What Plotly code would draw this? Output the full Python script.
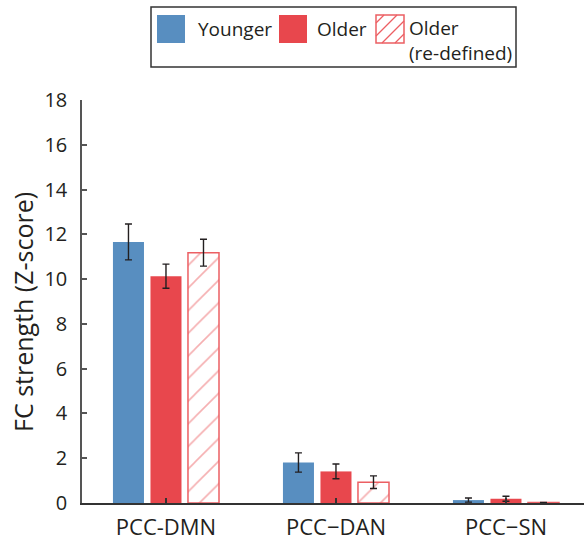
import plotly.graph_objects as go

# ---- data ----
categories = ["PCC-DMN", "PCC\u2212DAN", "PCC\u2212SN"]
younger = [11.66, 1.81, 0.13]
younger_err = [0.80, 0.43, 0.09]
older = [10.13, 1.41, 0.19]
older_err = [0.54, 0.33, 0.11]
older_redef = [11.18, 0.93, 0.02]
older_redef_err = [0.60, 0.28, 0.0]
y_ticks = list(range(0, 19, 2))

series_names = ["Younger", "Older", "Older<br>(re-defined)"]
y_title = "FC strength (Z-score)"

# ---- style ----
BLUE = "#588ec0"
RED = "#e8474d"
RED_LINE = "#ec5f63"
INK = "#231f20"
FONT = "Open Sans"

W, H = 584, 540
M_L, M_R, M_T, M_B = 82, 0, 100, 37
PW, PH = W - M_L - M_R, H - M_T - M_B


def px(x):
    return (x - M_L) / PW


def py(y):
    return (H - M_B - y) / PH


err_style = dict(type="data", color=INK, thickness=1.4, width=3.5, visible=True)

fig = go.Figure()
fig.add_trace(go.Bar(
    x=categories, y=younger, name=series_names[0],
    marker=dict(color=BLUE, line=dict(width=0)),
    error_y=dict(array=younger_err, **err_style),
))
fig.add_trace(go.Bar(
    x=categories, y=older, name=series_names[1],
    marker=dict(color=RED, line=dict(width=0)),
    error_y=dict(array=older_err, **err_style),
))
fig.add_trace(go.Bar(
    x=categories, y=older_redef, name=series_names[2],
    marker=dict(
        color="white",
        line=dict(color=RED_LINE, width=1.5),
        pattern=dict(shape="/", fgcolor=RED_LINE, bgcolor="white",
                     size=16, solidity=0.1, fillmode="overlay"),
    ),
    error_y=dict(array=older_redef_err, **err_style),
))

# ---- hand-drawn legend box ----
shapes = []
annotations = []
shapes.append(dict(type="rect", xref="paper", yref="paper",
                   x0=px(151), x1=px(516), y0=py(7), y1=py(67),
                   line=dict(color="#333333", width=1.5), fillcolor="white"))

swatches = [(157, BLUE, "solid"), (279, RED, "solid"), (376, RED_LINE, "hatch")]
label_x = [196, 315, 407]
SW = 28
SY0 = 15
for (sx, col, kind), lx, name in zip(swatches, label_x, series_names):
    if kind == "solid":
        shapes.append(dict(type="rect", xref="paper", yref="paper",
                           x0=px(sx), x1=px(sx + SW), y0=py(SY0), y1=py(SY0 + SW),
                           line=dict(width=0), fillcolor=col))
    else:
        shapes.append(dict(type="rect", xref="paper", yref="paper",
                           x0=px(sx), x1=px(sx + SW), y0=py(SY0), y1=py(SY0 + SW),
                           line=dict(color=col, width=1.5), fillcolor="white"))
        # diagonal hatching clipped to the square
        for c in (-20, -7, 6, 19):
            u0, v0 = max(0, c), max(0, -c)
            u1, v1 = min(SW, SW + c), min(SW, SW - c)
            shapes.append(dict(type="line", xref="paper", yref="paper",
                               x0=px(sx + u0), y0=py(SY0 + SW - v0),
                               x1=px(sx + u1), y1=py(SY0 + SW - v1),
                               line=dict(color=col, width=1.2)))
    if "<br>" in name:
        annotations.append(dict(text=name, xref="paper", yref="paper",
                                x=px(lx), y=py(13), xanchor="left", yanchor="top",
                                showarrow=False, align="left",
                                font=dict(family=FONT, size=19, color=INK)))
    else:
        annotations.append(dict(text=name, xref="paper", yref="paper",
                                x=px(lx), y=py(29), xanchor="left", yanchor="middle",
                                showarrow=False,
                                font=dict(family=FONT, size=19, color=INK)))

# rotated y-axis title
annotations.append(dict(text=y_title, xref="paper", yref="paper",
                        x=px(23), y=py(312), xanchor="center", yanchor="middle",
                        textangle=-90, showarrow=False,
                        font=dict(family=FONT, size=25, color=INK)))

fig.update_layout(
    width=W, height=H,
    margin=dict(l=M_L, r=M_R, t=M_T, b=M_B),
    paper_bgcolor="white", plot_bgcolor="white",
    barmode="group", bargap=0.338, bargroupgap=0.173,
    showlegend=False,
    font=dict(family=FONT, color=INK),
    shapes=shapes, annotations=annotations,
    xaxis=dict(
        range=[-0.494, 2.459],
        showline=True, linecolor="#333333", linewidth=1.5,
        ticks="inside", ticklen=5, tickwidth=1.5, tickcolor="#333333",
        tickfont=dict(family=FONT, size=22, color=INK),
        ticklabelstandoff=4,
        showgrid=False, zeroline=False,
    ),
    yaxis=dict(
        range=[0, 18], tickvals=y_ticks,
        showline=True, linecolor="#555555", linewidth=1.5,
        ticks="inside", ticklen=5, tickwidth=1.5, tickcolor="#555555",
        tickfont=dict(family=FONT, size=20, color=INK),
        ticklabelstandoff=9,
        showgrid=False, zeroline=False,
    ),
)

fig.write_html("out.html")
